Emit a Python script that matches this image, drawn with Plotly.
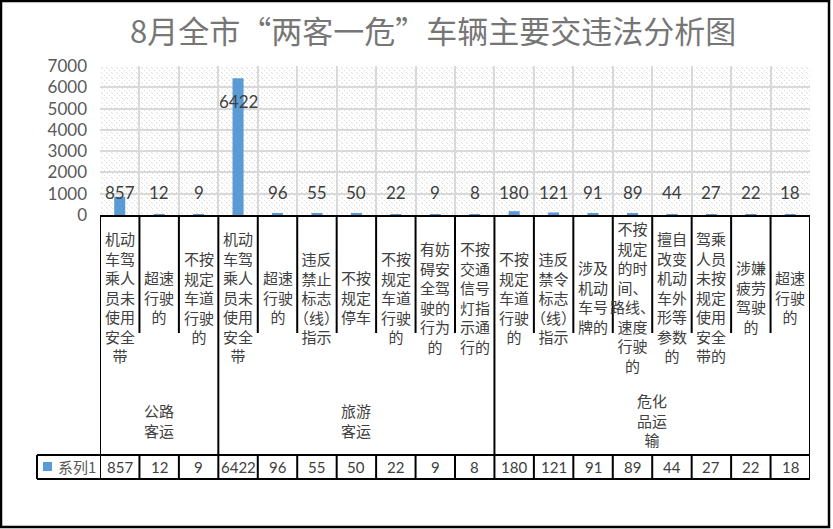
import base64
import plotly.graph_objects as go

# ---------------- data ----------------
title_text = "8月全市“两客一危”车辆主要交违法分析图"
groups = ["公路客运", "旅游客运", "危化品运输"]
group_sizes = [3, 7, 8]
categories = [
    "机动车驾乘人员未使用安全带", "超速行驶的", "不按规定车道行驶的",
    "机动车驾乘人员未使用安全带", "超速行驶的", "违反禁止标志（线）指示", "不按规定停车",
    "不按规定车道行驶的", "有妨碍安全驾驶的行为的", "不按交通信号灯指示通行的",
    "不按规定车道行驶的", "违反禁令标志（线）指示", "涉及机动车号牌的",
    "不按规定的时间、路线、速度行驶的", "擅自改变机动车外形等参数的",
    "驾乘人员未按规定使用安全带的", "涉嫌疲劳驾驶的", "超速行驶的",
]
values = [857, 12, 9, 6422, 96, 55, 50, 22, 9, 8, 180, 121, 91, 89, 44, 27, 22, 18]
series_name = "系列1"
y_ticks = [0, 1000, 2000, 3000, 4000, 5000, 6000, 7000]

# ---------------- geometry / style ----------------
W, H = 833, 529
PL, PR, PT, PB = 100, 810, 66, 215
YMAX = 7000
BLUE = "#5B9BD5"
CJK = "Noto Sans CJK SC"
NUM = "Lato"


def py(p):
    return (PB - p) / (PB - PT)


def px(p):
    return (p - PL) / (PR - PL)


def wrap(s, n=2):
    no_start = "、）。，"
    lines, cur = [], ""
    for ch in s:
        if len(cur) >= n and ch not in no_start and not cur.endswith("（"):
            lines.append(cur)
            cur = ch
        else:
            cur += ch
    lines.append(cur)
    return "<br>".join(lines)


n = len(values)
xs = list(range(n))

fig = go.Figure()
fig.add_trace(go.Bar(x=xs, y=values, width=0.28, marker_color=BLUE,
                     marker_line_width=0, name=series_name, showlegend=False,
                     hoverinfo="x+y"))

ann = []
# data labels
for i, v in enumerate(values):
    if v > YMAX - 1000:
        ly = v - 1100
    else:
        ly = max(v, 1080)
    ann.append(dict(x=i, y=ly, xref="x", yref="y", text=str(v), showarrow=False,
                    yanchor="middle", font=dict(family=NUM, size=17, color="#404040")))

# inner category labels
for i, c in enumerate(categories):
    ann.append(dict(x=i, y=py(297), xref="x", yref="paper", text=wrap(c), showarrow=False,
                    xanchor="center", yanchor="middle", align="center",
                    font=dict(family=CJK, size=15, color="#404040")))

# group labels and boundaries
bounds = [0]
for s in group_sizes:
    bounds.append(bounds[-1] + s)
for g, (a, b) in zip(groups, zip(bounds[:-1], bounds[1:])):
    ann.append(dict(x=(a + b - 1) / 2, y=py(420), xref="x", yref="paper", text=wrap(g),
                    showarrow=False, xanchor="center", yanchor="middle", align="center",
                    font=dict(family=CJK, size=15, color="#404040")))

# data table values
for i, v in enumerate(values):
    ann.append(dict(x=i, y=py(467), xref="x", yref="paper", text=str(v), showarrow=False,
                    xanchor="center", yanchor="middle",
                    font=dict(family=NUM, size=15, color="#404040")))
ann.append(dict(x=px(56), y=py(467), xref="paper", yref="paper", text=series_name,
                showarrow=False, xanchor="left", yanchor="middle",
                font=dict(family=CJK, size=15, color="#595959")))

shapes = []
LINE = dict(color="black", width=2)
for b in range(n + 1):
    xb = b - 0.5
    if b in bounds:
        shapes.append(dict(type="line", xref="x", yref="paper", x0=xb, x1=xb,
                           y0=0, y1=py(479), line=LINE))
    else:
        shapes.append(dict(type="line", xref="x", yref="paper", x0=xb, x1=xb,
                           y0=0, y1=py(333), line=LINE))
        shapes.append(dict(type="line", xref="x", yref="paper", x0=xb, x1=xb,
                           y0=py(455), y1=py(479), line=LINE))
for yy in (455, 479):
    shapes.append(dict(type="line", xref="paper", yref="paper", x0=px(37), x1=1,
                       y0=py(yy), y1=py(yy), line=LINE))
shapes.append(dict(type="line", xref="paper", yref="paper", x0=px(37), x1=px(37),
                   y0=py(455), y1=py(479), line=LINE))
# legend key
shapes.append(dict(type="rect", xref="paper", yref="paper", x0=px(43), x1=px(52),
                   y0=py(471), y1=py(462), fillcolor=BLUE, line_width=0))
# outer border
shapes.append(dict(type="rect", xref="paper", yref="paper", x0=px(1), x1=px(829),
                   y0=py(527), y1=py(1), line=dict(color="black", width=2.5)))

# hatch background
pw, ph = PR - PL, PB - PT
svg = (f"<svg xmlns='http://www.w3.org/2000/svg' width='{pw}' height='{ph}'>"
       "<defs><pattern id='p' width='5' height='5' patternUnits='userSpaceOnUse'>"
       "<path d='M-1,-1 L6,6 M-1,4 L1,6 M4,-1 L6,1' stroke='#dedede' stroke-width='1' "
       "stroke-dasharray='1.4,1' shape-rendering='crispEdges'/></pattern></defs>"
       f"<rect width='{pw}' height='{ph}' fill='url(#p)'/></svg>")
img_src = "data:image/svg+xml;base64," + base64.b64encode(svg.encode()).decode()

fig.update_layout(
    width=W, height=H,
    margin=dict(l=PL, r=W - PR, t=PT, b=H - PB, pad=0),
    paper_bgcolor="white", plot_bgcolor="white",
    title=dict(text=title_text, x=0.52, xref="container", xanchor="center",
               y=1 - 32 / H, yref="container", yanchor="middle",
               font=dict(family=CJK, size=31, color="#767676")),
    xaxis=dict(range=[-0.5, n - 0.5], tickmode="array",
               tickvals=[b - 0.5 for b in range(n + 1)], showticklabels=False,
               showgrid=True, gridcolor="#d9d9d9", gridwidth=1.5, zeroline=False,
               showline=True, linecolor="black", linewidth=2, ticks=""),
    yaxis=dict(range=[0, YMAX], tickmode="array", tickvals=y_ticks,
               showgrid=True, gridcolor="#d9d9d9", gridwidth=1.5, zeroline=False,
               showline=False, ticks="", ticklabelstandoff=12,
               tickfont=dict(family=NUM, size=17, color="#595959")),
    annotations=ann,
    shapes=shapes,
    images=[dict(source=img_src, xref="paper", yref="paper", x=0, y=1,
                 sizex=1, sizey=1, xanchor="left", yanchor="top",
                 sizing="stretch", layer="below")],
    showlegend=False,
)

fig.write_html("out.html", config={"displayModeBar": False},
               post_script="document.body.style.margin='0';document.body.style.overflow='hidden';")
